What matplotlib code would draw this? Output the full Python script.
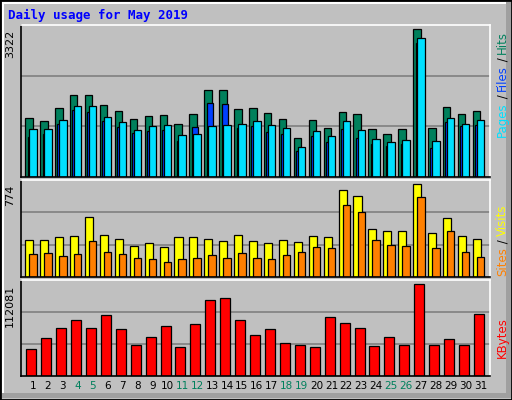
import numpy as np
import matplotlib
matplotlib.use("Agg")
import matplotlib.pyplot as plt
from matplotlib.patches import Rectangle

days = list(range(1, 32))
weekend = [4, 5, 11, 12, 18, 19, 25, 26]

hits = [1335, 1268, 1560, 1853, 1853, 1628, 1493, 1313, 1380, 1403, 1200, 1425, 1965, 1965, 1538, 1560,
        1448, 1313, 885, 1290, 1110, 1470, 1425, 1088, 975, 1088, 3322, 1110, 1583, 1425, 1493]
files = [1088, 1088, 1290, 1605, 1605, 1358, 1245, 1065, 1155, 1178, 953, 975, 1155, 1178, 1200, 1268,
         1178, 1110, 683, 1043, 930, 1268, 1065, 863, 795, 840, 3135, 818, 1335, 1200, 1290]
pages = [908, 975, 1200, 1515, 1470, 1268, 1133, 998, 1043, 1065, 818, 1133, 1673, 1650, 1110, 1155,
         1020, 975, 593, 930, 795, 1088, 885, 750, 705, 750, 3023, 660, 1245, 1155, 1178]
visits = [305, 305, 330, 338, 497, 346, 313, 254, 279, 246, 330, 330, 313, 296, 346, 296,
          279, 305, 288, 338, 330, 724, 673, 397, 380, 380, 774, 363, 489, 338, 313]
sites = [187, 196, 170, 187, 296, 204, 187, 154, 145, 120, 145, 154, 179, 154, 196, 154,
         145, 179, 204, 246, 237, 598, 539, 305, 263, 254, 665, 237, 380, 204, 162]
kbytes = [32311, 45808, 58078, 67894, 58078, 74029, 56851, 37219, 47035, 60532, 34765, 62986, 92434,
          94888, 67894, 49489, 56851, 39673, 37219, 34765, 71575, 64213, 58078, 35992, 47035, 37219,
          112081, 37219, 44581, 37219, 75256]

BG = "#C0C0C0"
C_HITS, C_FILES, C_PAGES = "#00805C", "#00E0FF", "#0040FF"
C_VISITS, C_SITES, C_KB = "#FFFF00", "#FF8000", "#FF0000"
W, H = 512, 400

fig = plt.figure(figsize=(5.12, 4.0), dpi=100, facecolor=BG)
# bevel: grey shadow right and bottom, white highlight left and top
fig.patches.append(Rectangle((506 / W, 2 / H), 5 / W, 396 / H, transform=fig.transFigure,
                             facecolor="#A0A0A0", edgecolor="none", zorder=-1))
fig.patches.append(Rectangle((2 / W, 2 / H), 508 / W, 5 / H, transform=fig.transFigure,
                             facecolor="#A0A0A0", edgecolor="none", zorder=-1))
fig.patches.append(Rectangle((2 / W, 7 / H), 2 / W, 391 / H, transform=fig.transFigure,
                             facecolor="white", edgecolor="none", zorder=-1))
fig.patches.append(Rectangle((2 / W, 396 / H), 504 / W, 2 / H, transform=fig.transFigure,
                             facecolor="white", edgecolor="none", zorder=-1))
fig.patches.append(Rectangle((0, 0), 1, 1, transform=fig.transFigure, fill=False,
                             edgecolor="black", linewidth=2))

fig.text(8 / W, 1 - 15 / H, "Daily usage for May 2019", color="#0000FF", fontsize=9,
         fontweight="bold", family="DejaVu Sans Mono", va="center")

x = np.array(days)
left, width = 20.7 / W, 469.3 / W


def make_ax(top, bottom, peak, frac):
    ax = fig.add_axes([left, 1 - bottom / H, width, (bottom - top) / H])
    ax.set_facecolor(BG)
    ax.set_xlim(0.175, 31.63)
    ymax = peak / frac
    ax.set_ylim(0, ymax)
    for g in (ymax / 3, 2 * ymax / 3):
        ax.axhline(g, color="#808080", linewidth=1.2, zorder=0)
    ax.set_yticks([])
    ax.set_xticks([])
    for s in ax.spines.values():
        s.set_linewidth(1.2)
    ax.spines["top"].set_color("white")
    ax.spines["right"].set_color("white")
    ax.text(-0.012, frac, f"{peak}", transform=ax.transAxes, rotation=90, ha="right",
            va="top", fontsize=8)
    return ax


def bars(ax, offset, wid, vals, color):
    ax.bar(x + offset, vals, width=wid, align="edge", color=color, edgecolor="black",
           linewidth=0.9, zorder=2)


ax1 = make_ax(25, 177, max(hits), 0.972)
bars(ax1, -0.52, 0.5, hits, C_HITS)
bars(ax1, -0.36, 0.45, pages, C_PAGES)
bars(ax1, -0.25, 0.5, files, C_FILES)

ax2 = make_ax(180.3, 276.7, max(visits), 0.957)
bars(ax2, -0.52, 0.54, visits, C_VISITS)
bars(ax2, -0.25, 0.5, sites, C_SITES)

ax3 = make_ax(280.3, 375.7, max(kbytes), 0.957)
bars(ax3, -0.45, 0.67, kbytes, C_KB)
ax3.set_xticks(days)
ax3.set_xticklabels([str(d) for d in days], fontsize=7.5)
ax3.tick_params(axis="x", length=0, pad=4)
for lbl, d in zip(ax3.get_xticklabels(), days):
    lbl.set_color("#00805C" if d in weekend else "black")

fig.canvas.draw()
renderer = fig.canvas.get_renderer()


def side_label(y_bottom, parts):
    # vertical legend on the right, read bottom to top, y in pixels from top
    ypos = y_bottom
    for txt, col in parts:
        t = fig.text(496 / W, 1 - ypos / H, txt, color=col, rotation=90, ha="left",
                     va="bottom", fontsize=8.5, family="DejaVu Sans")
        ext = t.get_window_extent(renderer)
        ypos -= ext.height


side_label(137, [("Pages", C_FILES), (" / ", "black"), ("Files", C_PAGES),
                 (" / ", "black"), ("Hits", C_HITS)])
side_label(276, [("Sites", C_SITES), (" / ", "black"), ("Visits", C_VISITS)])
side_label(358, [("KBytes", C_KB)])

fig.savefig("out.png", dpi=100, facecolor=BG)
